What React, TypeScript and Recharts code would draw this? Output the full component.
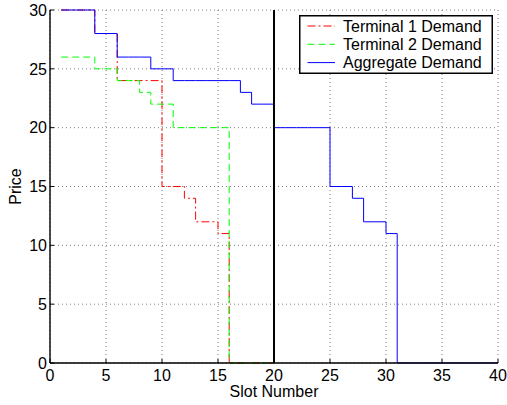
import React from 'react';
import {
  LineChart,
  Line,
  XAxis,
  YAxis,
  CartesianGrid,
  ReferenceLine,
  Legend,
} from 'recharts';

// Slot indices for the two terminals and for the aggregate curve
const terminalSlots = [1, 2, 3, 4, 5, 6, 7, 8, 9, 10, 11, 12, 13, 14, 15, 16, 17, 18, 19, 20];
const aggregateSlots = [
  1, 2, 3, 4, 5, 6, 7, 8, 9, 10, 11, 12, 13, 14, 15, 16, 17, 18, 19, 20,
  21, 22, 23, 24, 25, 26, 27, 28, 29, 30, 31, 32, 33, 34, 35, 36, 37, 38, 39, 40,
];

// Bid price per slot
const terminal1Price = [30, 30, 30, 28, 28, 24, 24, 24, 24, 15, 15, 14, 12, 12, 11, 0, 0, 0, 0, 0];
const terminal2Price = [26, 26, 26, 25, 25, 24, 24, 23, 22, 22, 20, 20, 20, 20, 20, 0, 0, 0, 0, 0];
const aggregatePrice = [
  30, 30, 30, 28, 28, 26, 26, 26, 25, 25, 24, 24, 24, 24, 24, 24, 23, 22, 22, 20,
  20, 20, 20, 20, 15, 15, 14, 12, 12, 11, 0, 0, 0, 0, 0, 0, 0, 0, 0, 0,
];

// Number of slots available
const capacitySlot = 20;

const xTicks = [0, 5, 10, 15, 20, 25, 30, 35, 40];
const yTicks = [0, 5, 10, 15, 20, 25, 30];

const toRows = (slots: number[], prices: number[]) =>
  slots.map((slot, i) => ({ slot, price: prices[i] }));

const terminal1Data = toRows(terminalSlots, terminal1Price);
const terminal2Data = toRows(terminalSlots, terminal2Price);
const aggregateData = toRows(aggregateSlots, aggregatePrice);

const FONT = '"Liberation Sans", Arial, Helvetica, sans-serif';
const AXIS_STROKE = { stroke: '#000', strokeWidth: 1.4 };

const series = [
  { name: 'Terminal 1 Demand', color: '#ff0000', dash: '8 3 2 3', data: terminal1Data },
  { name: 'Terminal 2 Demand', color: '#00ff00', dash: '7 4', data: terminal2Data },
  { name: 'Aggregate Demand', color: '#0000ff', dash: undefined as string | undefined, data: aggregateData },
];

const LegendBox = () => (
  <svg width={195} height={60} style={{ display: 'block' }}>
    <rect x={0.75} y={0.75} width={192.5} height={57.5} fill="#fff" stroke="#000" strokeWidth={1.5} />
    {series.map((s, i) => {
      const cy = 11 + i * 18.3;
      return (
        <g key={s.name}>
          <line x1={8.5} x2={36} y1={cy} y2={cy} stroke={s.color} strokeWidth={1} strokeDasharray={s.dash} />
          <text x={44} y={cy + 5.7} fontSize={16} fontFamily={FONT} fill="#000">
            {s.name}
          </text>
        </g>
      );
    })}
  </svg>
);

export default function App() {
  return (
    <div style={{ position: 'absolute', left: 0, top: 0, background: '#fff' }}>
      <LineChart
        width={507}
        height={405}
        margin={{ top: 10, right: 9, left: 0, bottom: 0 }}
        style={{ fontFamily: FONT }}
      >
        <CartesianGrid stroke="#808080" strokeDasharray="1 3" strokeWidth={1} />
        <XAxis
          dataKey="slot"
          type="number"
          domain={[0, 40]}
          ticks={xTicks}
          height={42}
          tickSize={-4}
          tickMargin={11}
          axisLine={AXIS_STROKE}
          tickLine={{ stroke: '#000' }}
          tick={{ fill: '#000', fontSize: 16, fontFamily: FONT }}
          allowDuplicatedCategory={false}
          label={{ value: 'Slot Number', position: 'insideBottom', offset: 8, fill: '#000', fontSize: 16, fontFamily: FONT }}
        />
        <XAxis
          xAxisId="top"
          orientation="top"
          dataKey="slot"
          type="number"
          domain={[0, 40]}
          ticks={xTicks}
          height={0}
          tickSize={-4}
          tick={false}
          axisLine={AXIS_STROKE}
          tickLine={{ stroke: '#000' }}
        />
        <YAxis
          type="number"
          domain={[0, 30]}
          ticks={yTicks}
          width={50}
          tickSize={-4}
          tickMargin={7}
          axisLine={AXIS_STROKE}
          tickLine={{ stroke: '#000' }}
          tick={{ fill: '#000', fontSize: 16, fontFamily: FONT }}
          label={{ value: 'Price', angle: -90, position: 'center', dx: -10, fill: '#000', fontSize: 16, fontFamily: FONT }}
        />
        <YAxis
          yAxisId="right"
          orientation="right"
          type="number"
          domain={[0, 30]}
          ticks={yTicks}
          width={0}
          tickSize={-4}
          tick={false}
          axisLine={AXIS_STROKE}
          tickLine={{ stroke: '#000' }}
        />
        {series.map((s) => (
          <Line
            key={s.name}
            name={s.name}
            data={s.data}
            dataKey="price"
            type="stepAfter"
            stroke={s.color}
            strokeWidth={1}
            strokeDasharray={s.dash}
            dot={false}
            activeDot={false}
            isAnimationActive={false}
          />
        ))}
        <ReferenceLine x={capacitySlot} stroke="#000" strokeWidth={2} />
        <Legend
          layout="horizontal"
          verticalAlign="middle"
          align="center"
          content={() => <LegendBox />}
          wrapperStyle={{ position: 'absolute', left: 299, top: 15, width: 195, height: 60 }}
        />
      </LineChart>
    </div>
  );
}
